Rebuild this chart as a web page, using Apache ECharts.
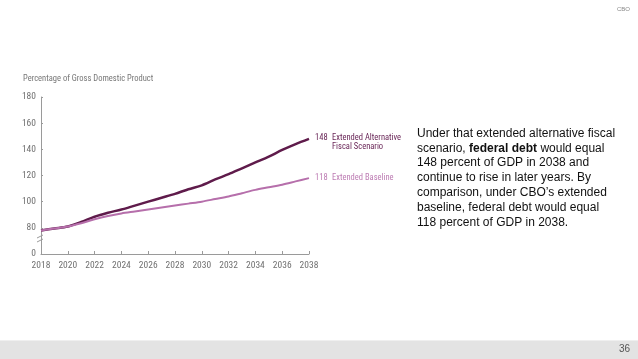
<!DOCTYPE html>
<html><head><meta charset="utf-8">
<script src="https://cdn.jsdelivr.net/npm/echarts@6/dist/echarts.min.js"></script>
<style>html,body{margin:0;padding:0;background:#fff}#c{width:638px;height:359px}</style>
</head><body><div id="c"></div>
<script>
const years = [2018,2019,2020,2021,2022,2023,2024,2025,2026,2027,2028,2029,2030,2031,2032,2033,2034,2035,2036,2037,2038];
const alternative = [78,79.5,81,84.5,88.5,91.5,94,97,100,103,106,109.5,112.5,117,121,125.5,130,134.5,139.5,144,148];
const baseline = [78,79.5,81,83.5,86.5,89,91,92.5,94,95.5,97,98.5,100,102,104,106.5,109,111,113,115.5,118];
const yTickLabels = {60:'0',80:'80',100:'100',120:'120',140:'140',160:'160',180:'180'};
const seriesNames = ['Extended Alternative\nFiscal Scenario','Extended Baseline'];
const narrow = '"Roboto Condensed","Liberation Sans",sans-serif';
const chart = echarts.init(document.getElementById('c'));
function pairs(v){return years.map((y,i)=>[y,v[i]]);}
function endLab(color, val, name, off){
  const lines = name.split('\n');
  return {show:true, color:color, fontFamily:narrow, fontSize:8.5, distance:6, offset:off,
    formatter: '{a|'+val+'}{b|'+lines[0]+'}' + (lines[1]?'\n{a|}{b|'+lines[1]+'}':''),
    rich:{a:{width:17,fontFamily:narrow,fontSize:8.5,color:color,lineHeight:9},b:{fontFamily:narrow,fontSize:8.5,color:color,lineHeight:9}}};
}
chart.setOption({
  animation:false,
  grid:{left:41,right:329,top:97,bottom:105},
  xAxis:{type:'value',min:2018,max:2038,interval:2,
    axisLine:{lineStyle:{color:'#9a9a9a',width:1}},
    axisTick:{inside:true,length:3,lineStyle:{color:'#9a9a9a'}},
    axisLabel:{color:'#707070',fontFamily:narrow,fontSize:9.5,margin:7,formatter:v=>String(v)},
    splitLine:{show:false}},
  yAxis:{type:'value',min:60,max:180,interval:20,
    axisLine:{show:true,lineStyle:{color:'#9a9a9a',width:1}},
    axisTick:{show:true,inside:true,length:2,lineStyle:{color:'#9a9a9a'}},
    axisLabel:{color:'#707070',fontFamily:narrow,fontSize:9.5,margin:5,formatter:v=>yTickLabels[v]},
    splitLine:{show:false}},
  series:[
    {type:'line',name:seriesNames[0],data:pairs(alternative),showSymbol:false,smooth:0.3,
     lineStyle:{color:'#5f1b4b',width:2.5},itemStyle:{color:'#5f1b4b'},
     endLabel:endLab('#6a2758',148,seriesNames[0],[0,4])},
    {type:'line',name:seriesNames[1],data:pairs(baseline),showSymbol:false,smooth:0.3,
     lineStyle:{color:'#b66fab',width:2},itemStyle:{color:'#b66fab'},
     endLabel:endLab('#bd7cb3',118,seriesNames[1],[0,0])}
  ],
  graphic:[
    {type:'text',left:23,top:74,style:{text:'Percentage of Gross Domestic Product',fill:'#777',font:'8.5px '+narrow}},
    {type:'rect',shape:{x:38,y:236,width:6,height:5},style:{fill:'#fff'}},
    {type:'line',shape:{x1:37,y1:238,x2:43,y2:235},style:{stroke:'#9a9a9a',lineWidth:1}},
    {type:'line',shape:{x1:37,y1:242,x2:43,y2:239},style:{stroke:'#9a9a9a',lineWidth:1}},
    {type:'text',left:417,top:126,style:{
      text:'Under that extended alternative fiscal\nscenario, {b|federal debt} would equal\n148 percent of GDP in 2038 and\ncontinue to rise in later years. By\ncomparison, under CBO\u2019s extended\nbaseline, federal debt would equal\n118 percent of GDP in 2038.',
      fill:'#111',font:'12px "Liberation Sans",Arial,sans-serif',lineHeight:14.8,
      rich:{b:{fontWeight:'bold',fill:'#111',font:'bold 12px "Liberation Sans",Arial,sans-serif',lineHeight:14.8}}}},
    {type:'text',right:8,top:6,style:{text:'CBO',fill:'#888',font:'6px "Liberation Sans",Arial,sans-serif'}},
    {type:'rect',shape:{x:0,y:341,width:638,height:18},style:{fill:'#e3e3e3'}},
    {type:'line',shape:{x1:0,y1:340.5,x2:638,y2:340.5},style:{stroke:'#efefef',lineWidth:1}},
    {type:'text',right:8,top:344,style:{text:'36',fill:'#555',font:'10px "Liberation Sans",Arial,sans-serif'}}
  ]
});
</script></body></html>
